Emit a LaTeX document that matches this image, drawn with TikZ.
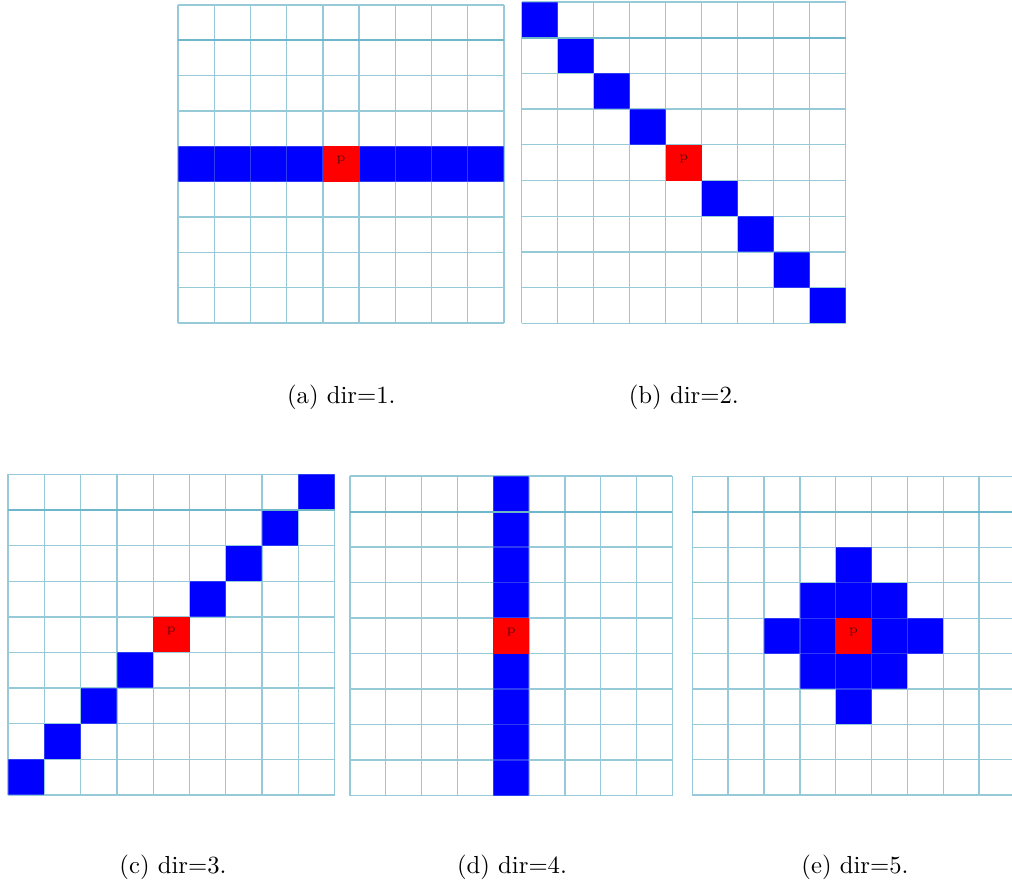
\documentclass[tikz,border=0pt]{standalone}
\definecolor{gridc}{RGB}{150,202,216}
\definecolor{gridthick}{RGB}{110,182,202}
\definecolor{pdark}{RGB}{90,10,10}
\begin{document}
\begin{tikzpicture}[x=0.405pt,y=-0.405pt,
  gridline/.style={draw=gridc,line width=0.55pt},
  gridover/.style={draw=gridc,line width=0.55pt,draw opacity=0.3},
  thickline/.style={draw=gridthick,line width=0.8pt},
  bluecell/.style={fill=blue},
  redcell/.style={fill=red},
  plabel/.style={font=\fontsize{5}{6}\selectfont,text=pdark,inner sep=0pt},
  caption/.style={font=\normalsize,anchor=base,inner sep=0pt}]
\useasboundingbox (0,0) rectangle (1012,886);
\clip (0,0) rectangle (1012,886);
\newcommand{\gridlines}[1]{%
  \foreach \k in {0,...,9}{\path[#1] (\k,0) -- (\k,9); \path[#1] (0,\k) -- (9,\k);}}
\newcommand{\gridpanel}[6]{%
  \begin{scope}[shift={(#1,#2)},x={#3*0.405pt},y={-#4*0.405pt}]
    \gridlines{gridline}
    #5
    \gridlines{gridover}
    \path[thickline] (0,1) -- (9,1);
    \fill[redcell] (4,4) rectangle (5,5);
    \node[plabel] (#6) at (4.5,4.4) {p};
  \end{scope}}
% (a)
\gridpanel{178}{5}{36.22}{35.33}{%
  \foreach \c in {0,1,2,3,5,6,7,8}{\fill[bluecell] (\c,4) rectangle (\c+1,5);}}{pa}
% (b)
\gridpanel{521.7}{2}{36}{35.7}{%
  \foreach \c in {0,1,2,3,5,6,7,8}{\fill[bluecell] (\c,\c) rectangle (\c+1,\c+1);}}{pb}
% (c)
\gridpanel{8}{474.3}{36.3}{35.63}{%
  \foreach \c in {0,1,2,3,5,6,7,8}{\fill[bluecell] (\c,8-\c) rectangle (\c+1,9-\c);}}{pc}
% (d)
\gridpanel{350}{476}{35.81}{35.52}{%
  \foreach \r in {0,1,2,3,5,6,7,8}{\fill[bluecell] (4,\r) rectangle (5,\r+1);}}{pd}
% (e)
\gridpanel{692.3}{476.7}{35.84}{35.37}{%
  \fill[bluecell] (4,2) rectangle (5,3);
  \fill[bluecell] (3,3) rectangle (6,4);
  \fill[bluecell] (2,4) rectangle (7,5);
  \fill[bluecell] (3,5) rectangle (6,6);
  \fill[bluecell] (4,6) rectangle (5,7);}{pe}
% captions
\node[caption] (capa) at (341.3,403.3) {(a) dir=1.};
\node[caption] (capb) at (683.8,403.3) {(b) dir=2.};
\node[caption] (capc) at (173,873.3) {(c) dir=3.};
\node[caption] (capd) at (512,873.3) {(d) dir=4.};
\node[caption] (cape) at (855,873.3) {(e) dir=5.};
\end{tikzpicture}
\end{document}
